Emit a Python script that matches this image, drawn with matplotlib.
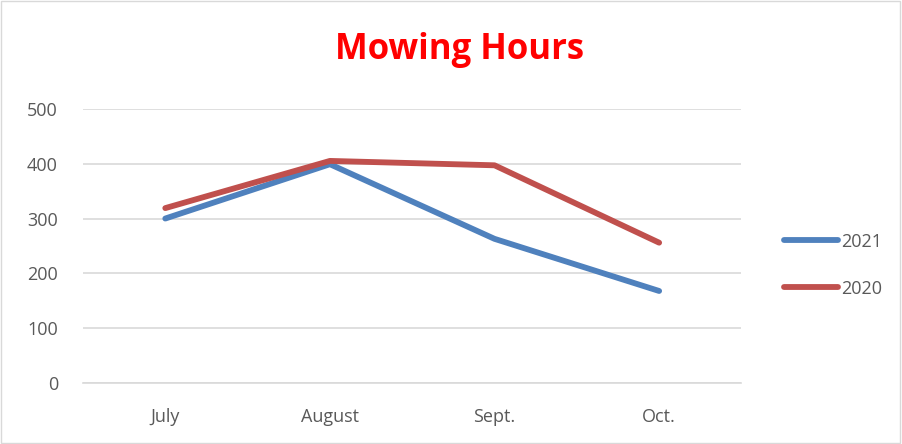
import matplotlib.pyplot as plt
from matplotlib.patches import Rectangle

months = ['July', 'August', 'Sept.', 'Oct.']
hours_2021 = [300, 399, 263, 168]
hours_2020 = [319, 405, 397, 256]

BLUE = '#4F81BD'
RED = '#C0504D'
GRID = '#D9D9D9'
TXT = '#595959'

plt.rcParams['font.family'] = ['Open Sans', 'DejaVu Sans']

fig = plt.figure(figsize=(9.02, 4.44), dpi=100)
fig.patches.append(Rectangle((0.001, 0.002), 0.997, 0.996, transform=fig.transFigure,
                             fill=False, edgecolor='#D9D9D9', linewidth=1))
ax = fig.add_axes([0.092, 0.137, 0.73, 0.618])

x = range(len(months))
ax.plot(x, hours_2021, color=BLUE, linewidth=4.2, solid_capstyle='round', label='2021')
ax.plot(x, hours_2020, color=RED, linewidth=4.2, solid_capstyle='round', label='2020')

ax.set_xlim(-0.5, 3.5)
ax.set_ylim(0, 500)
ax.set_yticks(range(0, 501, 100))
ax.set_xticks(list(x))
ax.set_xticklabels(months)
ax.grid(axis='y', color=GRID, linewidth=1.2)
ax.set_axisbelow(True)
for s in ['top', 'right', 'left']:
    ax.spines[s].set_visible(False)
ax.spines['bottom'].set_color(GRID)
ax.spines['bottom'].set_linewidth(1.2)
ax.tick_params(length=0, labelsize=13, labelcolor=TXT)
ax.tick_params(axis='y', pad=18)
ax.tick_params(axis='x', pad=18)

fig.text(0.51, 0.888, 'Mowing Hours', color='#FF0000', fontsize=25, fontweight='bold',
         ha='center', va='center')

leg = ax.legend(loc='center left', bbox_to_anchor=(1.04, 0.43), frameon=False,
                fontsize=13, labelspacing=1.6, handlelength=3.0, handletextpad=0.15)
for t in leg.get_texts():
    t.set_color(TXT)

fig.savefig('out.png', dpi=100)
